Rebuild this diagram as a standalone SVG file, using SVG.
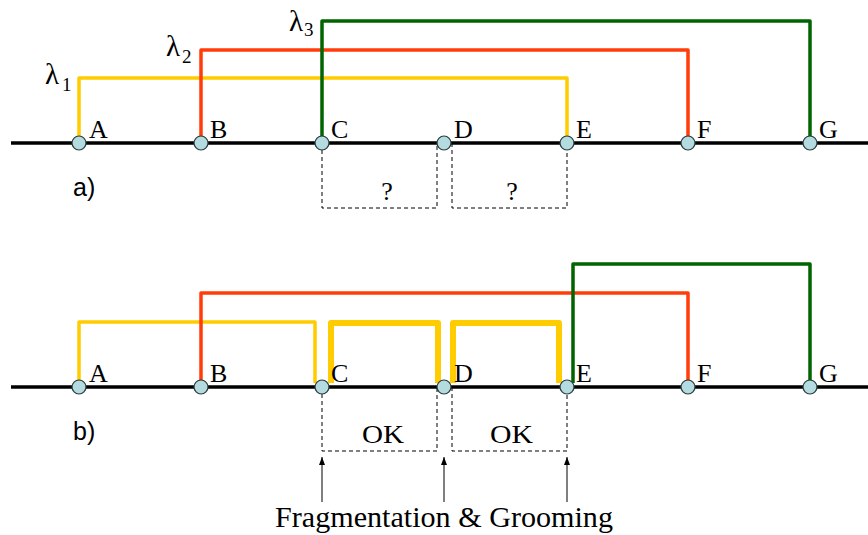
<svg xmlns="http://www.w3.org/2000/svg" width="868" height="535" viewBox="0 0 868 535">
<style>
.bg{fill:#fff}
.base{stroke:#000;stroke-width:3.5;fill:none}
.y{stroke:#ffcc00;stroke-width:3.5;fill:none;stroke-linejoin:round}
.yt{stroke:#ffcc00;stroke-width:6;fill:none;stroke-linejoin:round}
.r{stroke:#ff3c0a;stroke-width:3.5;fill:none;stroke-linejoin:round}
.g{stroke:#006400;stroke-width:3.5;fill:none;stroke-linejoin:round}
.dash{stroke:#000;stroke-width:1;fill:none;stroke-dasharray:4 3}
.arr{stroke:#000;stroke-width:1;fill:none}
.node{fill:#b4dce0;stroke:#2a3a3a;stroke-width:1.2}
.lbl{font-family:"Liberation Serif","Times New Roman",serif;font-size:26px;fill:#000}
.q{font-family:"Liberation Serif","Times New Roman",serif;font-size:26px;fill:#000}
.lam{font-family:"Liberation Serif","Times New Roman",serif;font-size:29px;fill:#000}
.sub{font-family:"Liberation Serif","Times New Roman",serif;font-size:19px;fill:#000}
.sans{font-family:"Liberation Sans",Arial,sans-serif;font-size:25px;fill:#000}
.ok{font-family:"Liberation Serif","Times New Roman",serif;font-size:25px;fill:#000}
.big{font-family:"Liberation Serif","Times New Roman",serif;font-size:30px;fill:#000}
</style>
<defs>
<marker id="ah" markerWidth="8" markerHeight="8" refX="8" refY="4" orient="auto" markerUnits="userSpaceOnUse">
<path d="M0,1 L8,4 L0,7 Z" fill="#000"/>
</marker>
</defs>
<rect class="bg" x="0" y="0" width="868" height="535"/>
<g id="connectors">
<line class="base" x1="11" y1="143" x2="868" y2="143"/>
<path class="y" d="M79,143 V78 H567 V143"/>
<path class="r" d="M201,143 V50 H688 V143"/>
<path class="g" d="M322,143 V21 H810 V143"/>
<path class="dash" d="M322,143 V208 H437 V143"/>
<path class="dash" d="M452,143 V208 H567 V143"/>
<line class="base" x1="11" y1="387" x2="868" y2="387"/>
<path class="y" d="M79,387 V322 H315 V383"/>
<path class="yt" d="M331,383 V323 H438 V383"/>
<path class="yt" d="M453,383 V323 H559 V383"/>
<path class="r" d="M201,387 V293 H688 V387"/>
<path class="g" d="M573,383 V264 H810 V387"/>
<path class="dash" d="M322,387 V451 H437 V387"/>
<path class="dash" d="M452,387 V451 H567 V387"/>
<line class="arr" x1="322" y1="502" x2="322" y2="457" marker-end="url(#ah)"/>
<line class="arr" x1="444" y1="502" x2="444" y2="457" marker-end="url(#ah)"/>
<line class="arr" x1="567" y1="502" x2="567" y2="457" marker-end="url(#ah)"/>
</g>
<g id="labels">
<text class="lam" x="45" y="84">λ</text><text class="sub" x="62" y="91">1</text>
<text class="lam" x="166" y="56">λ</text><text class="sub" x="182" y="63">2</text>
<text class="lam" x="289" y="31">λ</text><text class="sub" x="304" y="36">3</text>
<text class="sans" x="73" y="196">a)</text>
<text class="sans" x="73" y="440">b)</text>
<text class="q" x="387" y="200" text-anchor="middle">?</text>
<text class="q" x="512" y="200" text-anchor="middle">?</text>
<text class="ok" x="362" y="443" textLength="42" lengthAdjust="spacingAndGlyphs">OK</text>
<text class="ok" x="490" y="443" textLength="43" lengthAdjust="spacingAndGlyphs">OK</text>
<text class="big" x="275" y="527" textLength="338" lengthAdjust="spacingAndGlyphs">Fragmentation &amp; Grooming</text>
</g>
<g id="nodeA"><circle class="node" cx="79" cy="143" r="7"/><text class="lbl" x="89" y="138">A</text></g>
<g id="nodeB"><circle class="node" cx="201" cy="143" r="7"/><text class="lbl" x="210" y="138">B</text></g>
<g id="nodeC"><circle class="node" cx="322" cy="143" r="7"/><text class="lbl" x="331" y="138">C</text></g>
<g id="nodeD"><circle class="node" cx="444" cy="143" r="7"/><text class="lbl" x="454" y="138">D</text></g>
<g id="nodeE"><circle class="node" cx="567" cy="143" r="7"/><text class="lbl" x="576" y="138">E</text></g>
<g id="nodeF"><circle class="node" cx="688" cy="143" r="7"/><text class="lbl" x="697" y="138">F</text></g>
<g id="nodeG"><circle class="node" cx="810" cy="143" r="7"/><text class="lbl" x="819" y="138">G</text></g>
<g id="nodeA2"><circle class="node" cx="79" cy="387" r="7"/><text class="lbl" x="89" y="382">A</text></g>
<g id="nodeB2"><circle class="node" cx="201" cy="387" r="7"/><text class="lbl" x="210" y="382">B</text></g>
<g id="nodeC2"><circle class="node" cx="322" cy="387" r="7"/><text class="lbl" x="331" y="382">C</text></g>
<g id="nodeD2"><circle class="node" cx="444" cy="387" r="7"/><text class="lbl" x="454" y="382">D</text></g>
<g id="nodeE2"><circle class="node" cx="567" cy="387" r="7"/><text class="lbl" x="576" y="382">E</text></g>
<g id="nodeF2"><circle class="node" cx="688" cy="387" r="7"/><text class="lbl" x="697" y="382">F</text></g>
<g id="nodeG2"><circle class="node" cx="810" cy="387" r="7"/><text class="lbl" x="819" y="382">G</text></g>
</svg>
